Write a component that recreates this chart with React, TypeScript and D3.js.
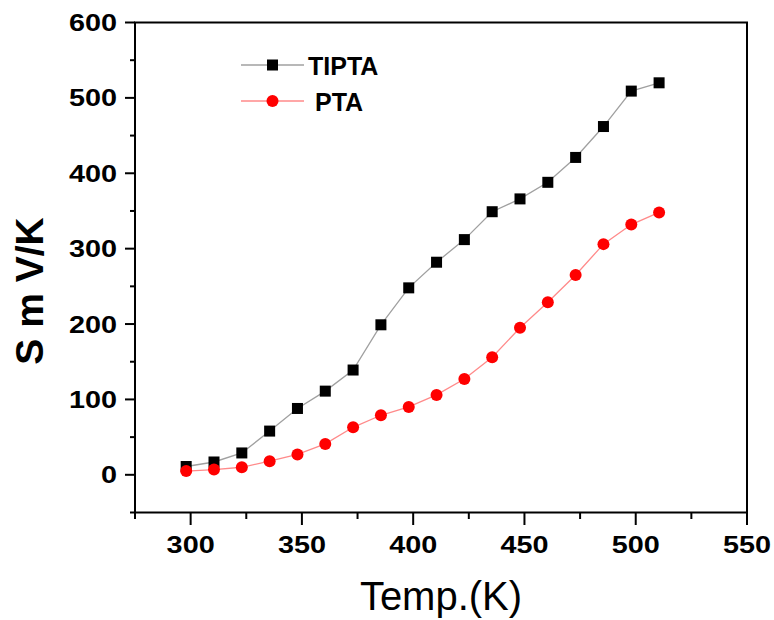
import React, { useEffect, useRef } from "react";
import * as d3 from "d3";

const temps = [298, 310.5, 323, 335.5, 348, 360.5, 373, 385.5, 398, 410.5, 423, 435.5, 448, 460.5, 473, 485.5, 498, 510.5];
const tipta = [11, 17, 29, 58, 88, 111, 139, 199, 248, 282, 312, 349, 366, 388, 421, 462, 509, 520];
const pta = [5, 7, 10, 18, 27, 41, 63, 79, 90, 106, 127, 156, 195, 229, 265, 306, 332, 348];
const xTicks = [300, 350, 400, 450, 500, 550];
const yTicks = [0, 100, 200, 300, 400, 500, 600];

export default function App() {
  const ref = useRef<SVGSVGElement>(null);

  useEffect(() => {
    const svg = d3.select(ref.current);
    svg.selectAll("*").remove();

    const x = d3.scaleLinear().domain([275, 550]).range([135, 747]);
    const y = d3.scaleLinear().domain([-50, 600]).range([512.5, 22.5]);

    const font = "Arial, 'Liberation Sans', sans-serif";

    // frame
    svg.append("rect")
      .attr("x", 135).attr("y", 22.5)
      .attr("width", 612).attr("height", 490)
      .attr("fill", "none").attr("stroke", "#000").attr("stroke-width", 2);

    // y ticks (major + minor)
    const yAll = d3.range(-50, 601, 50);
    svg.append("g").selectAll("line").data(yAll).join("line")
      .attr("x1", 135).attr("x2", d => (d % 100 === 0 ? 125 : 130))
      .attr("y1", d => y(d)).attr("y2", d => y(d))
      .attr("stroke", "#000").attr("stroke-width", 2);

    svg.append("g").selectAll("text").data(yTicks).join("text")
      .attr("transform", d => `translate(117,${y(d) + 8.5}) scale(1.2,1)`)
      .attr("text-anchor", "end")
      .style("font-family", font).style("font-weight", "bold").style("font-size", "24px")
      .text(d => d);

    // x ticks
    const xAll = d3.range(275, 551, 25);
    svg.append("g").selectAll("line").data(xAll).join("line")
      .attr("x1", d => x(d)).attr("x2", d => x(d))
      .attr("y1", 512.5).attr("y2", d => (d % 50 === 0 ? 525 : 519))
      .attr("stroke", "#000").attr("stroke-width", 2);

    svg.append("g").selectAll("text").data(xTicks).join("text")
      .attr("transform", d => `translate(${x(d)},552.5) scale(1.2,1)`)
      .attr("text-anchor", "middle")
      .style("font-family", font).style("font-weight", "bold").style("font-size", "24px")
      .text(d => d);

    // axis titles
    svg.append("text")
      .attr("x", 441).attr("y", 610)
      .attr("text-anchor", "middle")
      .style("font-family", font).style("font-size", "40px")
      .text("Temp.(K)");

    svg.append("text")
      .attr("transform", "translate(43,291) rotate(-90)")
      .attr("text-anchor", "middle")
      .style("font-family", font).style("font-weight", "bold").style("font-size", "39px")
      .text("S m V/K");

    const series = [
      { name: "TIPTA", values: tipta, line: "#a0a0a0", fill: "#000", shape: "square" },
      { name: "PTA", values: pta, line: "#ff8a8a", fill: "#ff0000", shape: "circle" }
    ];

    const lineGen = d3.line<number>().x((d, i) => x(temps[i])).y(d => y(d));

    series.forEach(s => {
      const g = svg.append("g");
      g.append("path").attr("d", lineGen(s.values) as string)
        .attr("fill", "none").attr("stroke", s.line).attr("stroke-width", 1.3);
      if (s.shape === "square") {
        g.selectAll("rect").data(s.values).join("rect")
          .attr("x", (d, i) => x(temps[i]) - 5.5).attr("y", d => y(d) - 5.5)
          .attr("width", 11).attr("height", 11).attr("fill", s.fill);
      } else {
        g.selectAll("circle").data(s.values).join("circle")
          .attr("cx", (d, i) => x(temps[i])).attr("cy", d => y(d))
          .attr("r", 6).attr("fill", s.fill);
      }
    });

    // legend
    const leg = svg.append("g");
    series.forEach((s, i) => {
      const ly = 65 + i * 36;
      leg.append("line").attr("x1", 241).attr("x2", 304).attr("y1", ly).attr("y2", ly)
        .attr("stroke", s.line).attr("stroke-width", 1.3);
      if (s.shape === "square") {
        leg.append("rect").attr("x", 272.5 - 5.5).attr("y", ly - 5.5)
          .attr("width", 11).attr("height", 11).attr("fill", s.fill);
      } else {
        leg.append("circle").attr("cx", 272.5).attr("cy", ly).attr("r", 6).attr("fill", s.fill);
      }
      leg.append("text")
        .attr("x", i === 0 ? 308 : 315).attr("y", ly + 10)
        .style("font-family", font).style("font-weight", "bold").style("font-size", "25px")
        .text(s.name);
    });
  }, []);

  return (
    <svg ref={ref} width={774} height={620}
      style={{ position: "absolute", left: 0, top: 0, background: "#fff" }} />
  );
}
